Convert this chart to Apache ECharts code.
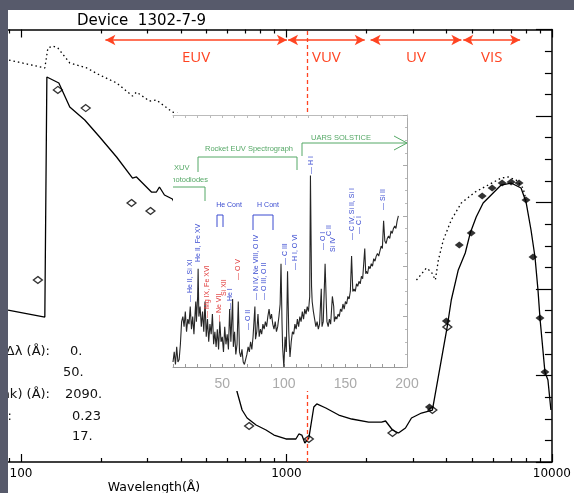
<!DOCTYPE html>
<html>
<head>
<meta charset="utf-8">
<script src="https://cdn.jsdelivr.net/npm/echarts@6/dist/echarts.min.js"></script>
<style>
  html, body { margin: 0; padding: 0; background: #fff; }
  #chart { width: 574px; height: 493px; }
</style>
</head>
<body>
<div id="chart"></div>
<script>
// main plot: wavelength (Angstrom) vs. response (arbitrary, 0..5)
var solidWl  = [89.4, 123, 125.2, 138.9, 152.7, 173.9, 197.9, 229.2, 263.2, 272.4, 310.1, 323.8, 332.4, 347.1, 371.9, 469.5, 583,
                652, 680.8, 711, 768.5, 837.7, 897.7, 995.7, 1085.6, 1114, 1143, 1173, 1214.6, 1268, 1301, 1407, 1574, 1761,
                2040, 2282, 2363, 2509, 2643, 2808, 2958, 3225, 3546, 4037, 4178, 4439, 4716, 4924, 5186, 5508, 5904,
                6437, 7018, 7651, 7989, 8342, 8635, 8862, 9016, 9412, 9661, 9914];
var solidVal = [1.757, 1.676, 4.451, 4.382, 4.104, 3.954, 3.757, 3.526, 3.283, 3.295, 3.121, 3.121, 3.179, 3.087, 3.040, 2.45, 1.53,
                0.809, 0.601, 0.509, 0.428, 0.370, 0.312, 0.266, 0.266, 0.324, 0.312, 0.220, 0.277, 0.636, 0.671, 0.624, 0.543, 0.497,
                0.462, 0.462, 0.474, 0.370, 0.335, 0.393, 0.509, 0.566, 0.601, 1.572, 1.873, 2.220, 2.416, 2.647, 2.832, 2.994, 3.087,
                3.202, 3.225, 3.168, 3.006, 2.682, 2.370, 1.988, 1.665, 1.040, 0.948, 0.601];

var dotLeftWl  = [90.2, 123, 126.3, 131.9, 137.7, 152.7, 176.9, 197.9, 229.2, 263.2, 272.4, 304.9, 323.8, 371.9, 395.1, 450];
var dotLeftVal = [4.647, 4.555, 4.786, 4.809, 4.786, 4.613, 4.555, 4.474, 4.382, 4.231, 4.277, 4.173, 4.185, 4.046, 4.023, 3.9];
var dotRightWl  = [3089, 3368, 3516, 3639, 3735, 3899, 4178, 4556, 5141, 5752, 6437, 6838, 7328, 7785, 7989];
var dotRightVal = [2.104, 2.243, 2.197, 2.104, 2.335, 2.566, 2.798, 2.994, 3.121, 3.202, 3.283, 3.295, 3.260, 3.168, 3.03];

var openWl  = [115.8, 137.7, 175.4, 260.9, 307.5, 723.4, 1214.6, 2509, 3546, 4037];
var openVal = [2.104, 4.301, 4.092, 2.994, 2.902, 0.416, 0.266, 0.335, 0.601, 1.561];
var fillWl  = [3456, 4002, 4478, 4966, 5462, 5955, 6493, 7018, 7519, 7989, 8487, 9016, 9412];
var fillVal = [0.636, 1.630, 2.509, 2.647, 3.075, 3.168, 3.225, 3.237, 3.225, 3.029, 2.370, 1.665, 1.040];

var bandNames = ['EUV', 'VUV', 'UV', 'VIS'];
var bandFrom  = [208, 1014, 2075, 4634];
var bandTo    = [1004, 1972, 4560, 7590];
var lymanAlpha = 1216;

var majorTicks = [100, 1000, 10000];
var minorTicks = [90, 200, 300, 400, 500, 600, 700, 800, 900, 2000, 3000, 4000, 5000, 6000, 7000, 8000, 9000];

// inset: solar spectrum, wavelength (nm)
var specNm  = [10, 11, 12, 13, 14, 15, 16, 17, 18, 19, 20, 21, 22, 23, 24, 25, 26, 27, 28, 28.5, 29, 30, 30.4, 31, 32, 33, 34,
               35, 36, 37, 38, 39, 40, 41, 42, 43, 44, 45, 46, 47, 48, 49, 50, 51, 52, 53, 54, 55, 56, 57, 58.4, 59, 60,
               61, 62, 63, 64, 65, 66, 67, 68, 69, 70, 71, 72, 73, 74, 75, 76.5, 77, 78, 79, 80, 81, 82, 83, 84, 85, 86,
               87, 88, 89, 90, 91, 92, 93, 94, 95, 96, 97, 97.7, 98.5, 99, 100, 101, 102, 103, 104, 105, 106, 107, 108,
               109, 110, 111, 112, 113, 114, 115, 116, 117, 118, 119, 120, 121, 121.6, 122.5, 123, 124, 125, 126, 127,
               128, 129, 130.4, 131, 132, 133.5, 134.5, 135, 136, 137, 138, 139.4, 140.5, 141, 142, 143, 144, 145, 146,
               147, 148, 149, 150, 151, 152, 153, 154, 155, 156, 157, 158, 159, 160, 161, 162, 163, 164, 165.7, 166.5,
               167, 168, 169, 170, 171, 172, 173, 174, 175, 176, 177, 178, 179, 180, 181, 182, 183, 184, 185, 186, 187,
               188, 189, 190, 191, 192, 193];
var specVal = [2, 6, 1, 8, 2, 3, 9, 18, 20, 16, 22, 14, 19, 17, 24, 15, 20, 13, 22, 26, 18, 28, 39, 20, 24, 16, 22,
               14, 26, 12, 19, 10, 17, 13, 21, 9, 14, 8, 15, 7, 18, 10, 12, 6, 16, 9, 13, 7, 23, 10, 27, 8, 14,
               5, 9, 26, 6, 4, 7, 2, 1, 3, 5, 8, 6, 10, 7, 12, 24, 11, 14, 21, 12, 15, 13, 17, 15, 18, 16,
               20, 23, 19, 21, 17, 15, 18, 14, 16, 20, 25, 41, 18, 8, 0, 12, 6, 38, 14, 4, 10, 14, 13,
               17, 15, 19, 16, 20, 18, 22, 19, 23, 21, 24, 22, 28, 76, 32, 26, 22, 19, 16, 18,
               15, 17, 31, 16, 18, 41, 25, 18, 16, 19, 17, 28, 24, 18, 20, 19, 21, 20, 23,
               22, 25, 23, 26, 25, 28, 27, 30, 44, 30, 31, 30, 33, 32, 34, 33, 36, 35, 47, 37,
               38, 37, 40, 39, 41, 40, 43, 42, 44, 45, 44, 46, 48, 47, 58, 50, 49, 51, 52, 51, 54,
               53, 55, 56, 55, 58, 60];

var lg = Math.log10;
function zip(xs, ys, fx) {
    return xs.map(function (x, i) { return [fx ? fx(x) : x, ys[i]]; });
}

var RED = '#ff4422';
var GREEN = '#55a866';
var BLUE = '#3a4bd0';
var PINK = '#e03a3a';
var X_MIN = 1.9512, X_MAX = 4;
var ARROW_Y = 4.879;
var TXT = '13px DejaVu Sans';

var bandLines = bandNames.map(function (name, i) {
    return [
        { coord: [lg(bandFrom[i]), ARROW_Y], name: name },
        { coord: [lg(bandTo[i]), ARROW_Y] }
    ];
});

function mainX(pos, major) {
    var vals = (major ? majorTicks : minorTicks).map(lg);
    return {
        gridIndex: 0, type: 'value', min: X_MIN, max: X_MAX, position: pos,
        axisLine: { show: major, onZero: false, lineStyle: { color: '#000', width: 1.5 } },
        axisTick: { inside: true, length: major ? 8 : 4, customValues: vals, lineStyle: { color: '#000', width: 1.2 } },
        axisLabel: {
            show: major && pos === 'bottom', customValues: vals, margin: 6,
            color: '#000', fontSize: 12, fontFamily: 'DejaVu Sans',
            formatter: function (v) { return String(Math.round(Math.pow(10, v))); }
        },
        splitLine: { show: false }
    };
}

var vLabels = [
    [190, 302, '— He II, Si XI', BLUE], [198, 262, 'He II, Fe XV', BLUE], [207, 318, '— Mg IX, Fe XVI', PINK],
    [219, 322, '— Ne VII', PINK], [224, 296, 'Si XII', PINK], [230, 310, '— He I', BLUE], [238, 280, '— O V', PINK],
    [248, 330, '— O II', BLUE], [256, 300, '— N IV, Ne VIII, O IV', BLUE], [264, 300, '— O III, O II', BLUE],
    [285, 265, '— C III', BLUE], [295, 270, '— H I, O VI', BLUE], [311, 174, '— H I', BLUE],
    [323, 250, '— O I', BLUE], [329, 236, 'C II', BLUE], [333, 252, 'Si IV', BLUE],
    [352, 240, '— C IV, Si II, Si I', BLUE], [359, 234, '— C I', BLUE], [383, 210, '— Si II', BLUE]
];

function line(points, color) {
    return { type: 'polyline', shape: { points: points }, style: { stroke: color, fill: null, lineWidth: 1 }, zlevel: 1, z: 6 };
}
function label(x, y, text, color, font, align) {
    return { type: 'text', x: x, y: y, style: { text: text, fill: color, font: font, textAlign: align || 'left', textVerticalAlign: 'middle' }, zlevel: 1, z: 6 };
}

var graphics = [
    // white backdrop of the inset picture, above the main curves
    { type: 'rect', shape: { x: 173, y: 113, width: 240, height: 278 }, style: { fill: '#fff' }, zlevel: 1, z: 0 },
    line([[302, 156], [302, 143], [407, 143]], GREEN),
    line([[394, 136], [407, 143], [394, 150]], GREEN),
    line([[198, 172], [198, 157], [297, 157], [297, 170]], GREEN),
    line([[173, 187], [205, 187], [205, 201]], GREEN),
    label(341, 138, 'UARS SOLSTICE', GREEN, '7.5px Liberation Sans', 'center'),
    label(249, 149, 'Rocket EUV Spectrograph', GREEN, '7.5px Liberation Sans', 'center'),
    label(174, 168, 'XUV', GREEN, '7.5px Liberation Sans'),
    label(208, 180, 'Photodiodes', GREEN, '7.5px Liberation Sans', 'right'),
    { type: 'rect', shape: { x: 160, y: 174, width: 13, height: 12 }, style: { fill: '#fff' }, zlevel: 1, z: 7 },
    label(229, 205, 'He Cont', BLUE, '7px Liberation Sans', 'center'),
    label(268, 205, 'H Cont', BLUE, '7px Liberation Sans', 'center'),
    line([[217, 227], [217, 215], [223, 215], [223, 227]], BLUE),
    line([[253, 230], [253, 215], [273, 215], [273, 230]], BLUE),
    // text block on the left, cut by the frame
    label(50, 352, 'Δλ (Å):', '#111', TXT, 'right'),
    label(70, 352, '0.', '#111', TXT),
    label(63, 373, '50.', '#111', TXT),
    label(50, 395, 'λ(peak) (Å):', '#111', TXT, 'right'),
    label(65, 395, '2090.', '#111', TXT),
    label(12, 417, 'QE:', '#111', TXT, 'right'),
    label(72, 417, '0.23', '#111', TXT),
    label(72, 437, '17.', '#111', TXT),
    label(77, 21, 'Device  1302-7-9', '#000', '15px DejaVu Sans'),
    label(154, 488, 'Wavelength(Å)', '#000', '12.5px DejaVu Sans', 'center'),
    // grey frame
    { type: 'rect', shape: { x: 0, y: 0, width: 574, height: 10 }, style: { fill: '#575a6b' }, zlevel: 2, z: 0 },
    { type: 'rect', shape: { x: 0, y: 0, width: 8, height: 493 }, style: { fill: '#575a6b' }, zlevel: 2, z: 0 }
];
vLabels.forEach(function (l) {
    var t = label(l[0], l[1], l[2], l[3], '7px Liberation Sans');
    t.rotation = Math.PI / 2;
    graphics.push(t);
});

var chart = echarts.init(document.getElementById('chart'));
chart.setOption({
    backgroundColor: '#fff',
    animation: false,
    grid: [
        { left: 8, right: 20, top: 29.5, bottom: 31 },
        { left: 173, top: 115, width: 234, height: 252 }
    ],
    xAxis: [
        mainX('bottom', true), mainX('bottom', false), mainX('top', true), mainX('top', false),
        {
            gridIndex: 1, type: 'value', min: 10, max: 200, interval: 10, position: 'bottom', zlevel: 1, z: 5,
            axisLine: { onZero: false, lineStyle: { color: '#9a9a9a', width: 1 } },
            axisTick: { inside: true, length: 3, lineStyle: { color: '#9a9a9a' } },
            axisLabel: {
                color: '#aaa', fontSize: 14, fontFamily: 'Liberation Sans', margin: 10,
                formatter: function (v) { return v % 50 === 0 ? String(v) : ''; }
            },
            splitLine: { show: false }
        },
        {
            gridIndex: 1, type: 'value', min: 10, max: 200, interval: 10, position: 'top', zlevel: 1, z: 5,
            axisLine: { onZero: false, lineStyle: { color: '#bbb', width: 1 } },
            axisTick: { inside: true, length: 3, lineStyle: { color: '#bbb' } },
            axisLabel: { show: false }, splitLine: { show: false }
        }
    ],
    yAxis: [
        {
            gridIndex: 0, type: 'value', min: 0, max: 5, interval: 1, position: 'right',
            axisLine: { show: true, onZero: false, lineStyle: { color: '#000', width: 1.5 } },
            axisTick: { inside: true, length: 16, lineStyle: { color: '#000', width: 1.2 } },
            minorTick: { show: true, splitNumber: 4, length: 7, lineStyle: { color: '#000', width: 1.2 } },
            axisLabel: { show: false }, splitLine: { show: false }
        },
        {
            gridIndex: 1, type: 'value', min: 0, max: 100, interval: 20, position: 'right', zlevel: 1, z: 5,
            axisLine: { show: true, onZero: false, lineStyle: { color: '#aaa', width: 1 } },
            axisTick: { inside: true, length: 4, lineStyle: { color: '#aaa' } },
            minorTick: { show: true, splitNumber: 4, length: 2, lineStyle: { color: '#bbb' } },
            axisLabel: { show: false }, splitLine: { show: false }
        }
    ],
    series: [
        {
            name: 'response', type: 'line', xAxisIndex: 0, yAxisIndex: 0,
            data: zip(solidWl, solidVal, lg), showSymbol: false,
            lineStyle: { color: '#000', width: 1.3 },
            markLine: {
                silent: true, symbol: ['arrow', 'arrow'], symbolSize: [8, 10],
                lineStyle: { color: RED, width: 1.5, type: 'solid' },
                label: { show: true, position: 'insideMiddleBottom', distance: 10, color: RED, fontSize: 15, fontFamily: 'Open Sans', formatter: '{b}' },
                data: bandLines
            }
        },
        {
            name: 'lyman', type: 'line', xAxisIndex: 0, yAxisIndex: 0, data: [],
            itemStyle: { color: RED }, lineStyle: { color: RED },
            markLine: {
                silent: true, symbol: ['none', 'none'], label: { show: false },
                lineStyle: { color: RED, width: 1.3, type: [4, 3], opacity: 1 },
                data: [{ xAxis: lg(lymanAlpha), lineStyle: { color: RED } }]
            }
        },
        {
            name: 'dotLeft', type: 'line', xAxisIndex: 0, yAxisIndex: 0,
            data: zip(dotLeftWl, dotLeftVal, lg), showSymbol: false,
            lineStyle: { color: '#000', width: 1.3, type: [1.5, 3] }
        },
        {
            name: 'dotRight', type: 'line', xAxisIndex: 0, yAxisIndex: 0,
            data: zip(dotRightWl, dotRightVal, lg), showSymbol: false,
            lineStyle: { color: '#000', width: 1.3, type: [1.5, 3] }
        },
        {
            name: 'open', type: 'scatter', xAxisIndex: 0, yAxisIndex: 0,
            data: zip(openWl, openVal, lg), symbol: 'diamond', symbolSize: [9, 7],
            itemStyle: { color: '#fff', borderColor: '#000', borderWidth: 1.3 }
        },
        {
            name: 'filled', type: 'scatter', xAxisIndex: 0, yAxisIndex: 0,
            data: zip(fillWl, fillVal, lg), symbol: 'diamond', symbolSize: [9, 7],
            itemStyle: { color: '#000' }
        },
        {
            name: 'spectrum', type: 'line', xAxisIndex: 4, yAxisIndex: 1, zlevel: 1, z: 5,
            data: zip(specNm, specVal), showSymbol: false,
            lineStyle: { color: '#262626', width: 1.1 }
        }
    ],
    graphic: graphics
});
</script>
</body>
</html>
